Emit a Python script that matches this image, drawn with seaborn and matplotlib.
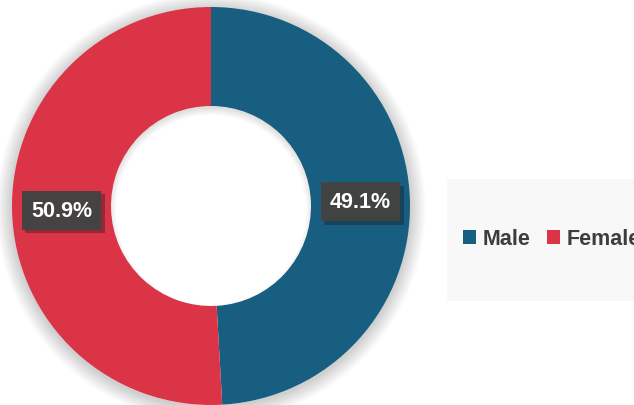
import matplotlib
matplotlib.use("Agg")
import math
import matplotlib.pyplot as plt
import matplotlib.patheffects as pe
import seaborn as sns
from matplotlib.patches import Wedge, Circle, Rectangle, Patch

# ---- data ----
categories = ["Male", "Female"]
shares = [49.1, 50.9]
colors = ["#175e81", "#da3446"]

sns.set_theme(style="white")
plt.rcParams["font.family"] = ["Liberation Sans", "DejaVu Sans"]

W, H = 634, 406
fig = plt.figure(figsize=(W / 100, H / 100), dpi=100)
ax = fig.add_axes([0, 0, 1, 1])

cx, cy = 211, H - 207
r_out, r_in = 199, 100

# soft outer shadow (rings outside the donut only)
for k in range(12):
    ax.add_patch(Wedge((cx, cy - 2), r_out + 1 + k * 1.3, 0, 360,
                       width=3 + k * 1.3, facecolor="black",
                       edgecolor="none", alpha=0.014, zorder=0))

wedges, _ = ax.pie(shares, colors=colors, startangle=90, counterclock=False,
                   radius=r_out, center=(cx, cy),
                   wedgeprops=dict(width=r_out - r_in, edgecolor="none", linewidth=0))
for w in wedges:
    w.set_zorder(2)

# inset shadow inside the hole
hole = Circle((cx, cy), r_in, transform=ax.transData)
for k in range(8):
    ring = Wedge((cx, cy - 4), r_in + 5, 0, 360, width=3 + k * 1.0,
                 facecolor="black", edgecolor="none", alpha=0.015, zorder=3)
    ring.set_clip_path(hole)
    ax.add_patch(ring)

# percentage labels
cum = 0.0
total = sum(shares)
for val in shares:
    mid = 90 - (cum + val / 2) / total * 360
    cum += val
    rr = (r_out + r_in) / 2
    x = cx + rr * math.cos(math.radians(mid))
    y = cy + rr * math.sin(math.radians(mid))
    t = ax.text(x, y, f"{val:.1f}%", fontsize=15.5, fontweight="bold",
                color="white", ha="center", va="center", zorder=5,
                bbox=dict(boxstyle="square,pad=0.42", facecolor="#434343",
                          edgecolor="none", alpha=0.97))
    t.get_bbox_patch().set_path_effects(
        [pe.SimplePatchShadow(offset=(2.5, -2.5), alpha=0.35), pe.Normal()])

# legend background panel
ax.add_patch(Rectangle((447, H - 302), 200, 122, facecolor="#f8f8f8",
                       edgecolor="none", zorder=1))

handles = [Patch(facecolor=c, edgecolor="none", label=l)
           for c, l in zip(colors, categories)]
leg = fig.legend(handles=handles, loc="center left",
                 bbox_to_anchor=(463 / W, (H - 240) / H), ncol=2,
                 frameon=False, borderpad=0, borderaxespad=0,
                 handlelength=0.62, handleheight=0.62, handletextpad=0.3,
                 columnspacing=0.75,
                 prop={"weight": "bold", "size": 15.5}, labelcolor="#3d3d3d")

ax.set_xlim(0, W)
ax.set_ylim(0, H)
ax.set_aspect("auto")
ax.axis("off")

fig.savefig("out.png", dpi=100, facecolor="white")
